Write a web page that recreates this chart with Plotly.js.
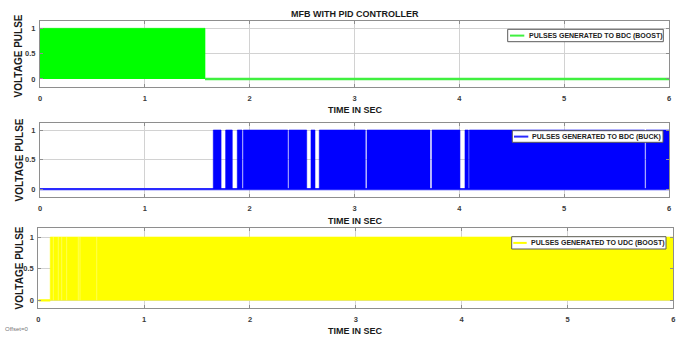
<!DOCTYPE html>
<html>
<head>
<meta charset="utf-8">
<script src="https://cdn.plot.ly/plotly-3.0.1.min.js"></script>
<style>
  html, body { margin: 0; padding: 0; background: #ffffff; }
  #chart { width: 681px; height: 337px; }
</style>
</head>
<body>
<div id="chart"></div>
<script>
// ---- axis ticks ----
const timeTicks = [0, 1, 2, 3, 4, 5, 6];
const levelTicks = [0, 0.5, 1];
const levelTickText = ['0', '0.5', '1'];

// ---- pulse levels ----
const pulseLow = 0;
const pulseHigh = 1;

// ---- BDC boost: switching burst, then held low ----
const bdcBoostOnStart = [0];
const bdcBoostOnEnd   = [1.574];
const bdcBoostLowT    = [1.574, 6];
const bdcBoostLowV    = [0, 0];

// ---- BDC buck: held low, then switching bursts with dropouts ----
const bdcBuckOnStart = [1.653, 1.771, 1.882, 1.939, 2.375, 2.585, 2.664, 3.119, 3.739, 4.054, 4.095, 5.781];
const bdcBuckOnEnd   = [1.727, 1.834, 1.927, 2.363, 2.544, 2.623, 3.103, 3.720, 4.006, 4.086, 5.768, 6.000];
const bdcBuckLowT    = [0, 6];
const bdcBuckLowV    = [0, 0];

// ---- UDC boost: short low start, then continuous switching ----
const udcBoostOnStart = [0.113];
const udcBoostOnEnd   = [6];
const udcBoostLowT    = [0, 0.113];
const udcBoostLowV    = [0, 0];
const udcBoostSkips   = [0.142, 0.189, 0.221, 0.268, 0.378, 0.394, 0.552];

// ---- colours ----
const greenFill = '#00ff00', greenLine = '#40f040';
const blueFill  = '#0000ff', blueLine  = '#2a2aff';
const yellowFill = '#ffff00', yellowLine = '#ffff00', yellowSkip = '#ffff66';

const W = 681, H = 337;
const px = p => p / W;
const py = p => 1 - p / H;

// closed rectangles between pulseLow and pulseHigh for each switching interval
function bandTrace(starts, ends, color, ax) {
  const x = [], y = [];
  starts.forEach((s, i) => {
    x.push(s, s, ends[i], ends[i], null);
    y.push(pulseLow, pulseHigh, pulseHigh, pulseLow, null);
  });
  return {
    type: 'scatter', mode: 'lines', x, y, fill: 'toself', fillcolor: color,
    line: { color: color, width: 0.6 }, xaxis: 'x' + ax, yaxis: 'y' + ax,
    hoverinfo: 'skip', showlegend: false
  };
}
function lowTrace(t, v, color, width, ax) {
  return {
    type: 'scatter', mode: 'lines', x: t, y: v,
    line: { color: color, width: width }, xaxis: 'x' + ax, yaxis: 'y' + ax,
    hoverinfo: 'skip', showlegend: false
  };
}
function skipTrace(times, color, ax) {
  const x = [], y = [];
  times.forEach(t => { x.push(t, t, null); y.push(pulseLow, pulseHigh, null); });
  return {
    type: 'scatter', mode: 'lines', x, y,
    line: { color: color, width: 0.8 }, xaxis: 'x' + ax, yaxis: 'y' + ax,
    hoverinfo: 'skip', showlegend: false
  };
}

const traces = [
  bandTrace(bdcBoostOnStart, bdcBoostOnEnd, greenFill, ''),
  lowTrace(bdcBoostLowT, bdcBoostLowV, greenLine, 2.5, ''),
  lowTrace(bdcBuckLowT, bdcBuckLowV, blueLine, 2.2, '2'),
  bandTrace(bdcBuckOnStart, bdcBuckOnEnd, blueFill, '2'),
  lowTrace(udcBoostLowT, udcBoostLowV, yellowLine, 2.2, '3'),
  bandTrace(udcBoostOnStart, udcBoostOnEnd, yellowFill, '3'),
  skipTrace(udcBoostSkips, yellowSkip, '3')
];

const tickFont = { family: 'Liberation Sans, Arial, sans-serif', size: 7.5, color: '#3a3a3a', weight: 'bold' };

function xAxis(domain, anchor) {
  return {
    domain, anchor, range: [0, 6], tickvals: timeTicks, ticktext: timeTicks.map(String),
    showgrid: true, gridcolor: '#d2d2d2', gridwidth: 1, zeroline: false,
    showline: true, mirror: 'ticks', linecolor: '#8e8e8e', linewidth: 1,
    ticks: 'inside', ticklen: 3, tickcolor: '#8e8e8e',
    tickfont: tickFont, ticklabelstandoff: 4, fixedrange: true
  };
}
function yAxis(domain, anchor, range) {
  return {
    domain, anchor, range, tickvals: levelTicks, ticktext: levelTickText,
    showgrid: true, gridcolor: '#d2d2d2', gridwidth: 1, zeroline: false,
    showline: true, mirror: 'ticks', linecolor: '#8e8e8e', linewidth: 1,
    ticks: 'inside', ticklen: 3, tickcolor: '#8e8e8e',
    tickfont: tickFont, ticklabelstandoff: 2, fixedrange: true
  };
}

const labelFont = { family: 'Liberation Sans, Arial, sans-serif', size: 9, color: '#1a1a1a', weight: 'bold' };
const yLabelFont = { family: 'Liberation Sans, Arial, sans-serif', size: 10, color: '#1a1a1a', weight: 'bold' };
const legendFont = { family: 'Liberation Sans, Arial, sans-serif', size: 7, color: '#222222', weight: 'bold' };

function txt(x, y, text, font, extra) {
  return Object.assign({ xref: 'paper', yref: 'paper', x: px(x), y: py(y), text, font,
    showarrow: false, xanchor: 'center', yanchor: 'middle' }, extra || {});
}

// legend boxes: [left, top, right, bottom, sampleStart, sampleEnd, sampleY, textX, colour, label]
const legendBoxes = [
  [507.7, 29.3, 663.3, 41.7, 510, 524.3, 35.6, 526.7, greenLine, 'PULSES GENERATED TO BDC (BOOST)'],
  [512.3, 130.7, 663.0, 142.3, 514.0, 528.3, 136.6, 530.0, blueLine, 'PULSES GENERATED TO BDC (BUCK)'],
  [511.7, 236.7, 666.0, 249.0, 513.3, 526.7, 242.9, 529.3, yellowLine, 'PULSES GENERATED TO UDC (BOOST)']
];

const shapes = [];
const annotations = [
  txt(355, 14, 'MFB WITH PID CONTROLLER', labelFont),
  txt(355, 109.5, 'TIME IN SEC', labelFont),
  txt(355, 221, 'TIME IN SEC', labelFont),
  txt(355, 331, 'TIME IN SEC', labelFont),
  txt(18.5, 56, 'VOLTAGE PULSE', yLabelFont, { textangle: -90 }),
  txt(18.5, 160, 'VOLTAGE PULSE', yLabelFont, { textangle: -90 }),
  txt(18.5, 268, 'VOLTAGE PULSE', yLabelFont, { textangle: -90 }),
  txt(3, 329, 'Offset=0', { family: 'Liberation Sans, Arial, sans-serif', size: 6, color: '#777777' }, { xanchor: 'left' })
];
legendBoxes.forEach(b => {
  shapes.push({ type: 'rect', xref: 'paper', yref: 'paper', layer: 'above',
    x0: px(b[0]), x1: px(b[2]), y0: py(b[3]), y1: py(b[1]),
    fillcolor: '#ffffff', line: { color: '#5a5a5a', width: 1 } });
  shapes.push({ type: 'line', xref: 'paper', yref: 'paper', layer: 'above',
    x0: px(b[4]), x1: px(b[5]), y0: py(b[6]), y1: py(b[6]),
    line: { color: b[8], width: 2 } });
  annotations.push(txt(b[7], b[6], b[9], legendFont, { xanchor: 'left' }));
});

const layout = {
  width: W, height: H,
  margin: { l: 0, r: 0, t: 0, b: 0 },
  paper_bgcolor: '#ffffff', plot_bgcolor: '#ffffff',
  font: { family: 'Liberation Sans, Arial, sans-serif' },
  showlegend: false,
  xaxis:  xAxis([px(40), px(669)], 'y'),
  yaxis:  yAxis([py(86.7), py(21)], 'x', [-0.152, 1.144]),
  xaxis2: xAxis([px(40), px(669)], 'y2'),
  yaxis2: yAxis([py(196.7), py(122.7)], 'x2', [-0.13, 1.124]),
  xaxis3: xAxis([px(38.3), px(673.3)], 'y3'),
  yaxis3: yAxis([py(308), py(227.7)], 'x3', [-0.12, 1.147]),
  shapes, annotations
};

Plotly.newPlot('chart', traces, layout, { staticPlot: true, displayModeBar: false });
</script>
</body>
</html>
